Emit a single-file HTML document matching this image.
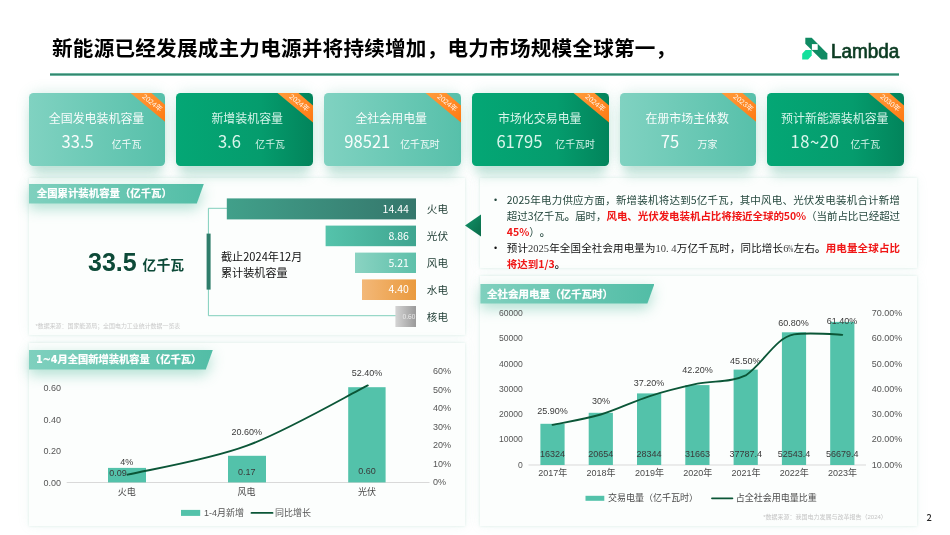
<!DOCTYPE html>
<html lang="zh"><head><meta charset="utf-8"><title>slide</title>
<style>
*{margin:0;padding:0;box-sizing:border-box}
html,body{width:950px;height:535px;overflow:hidden;background:#fff}
body{position:relative;font-family:"Liberation Sans","Noto Sans CJK SC",sans-serif;color:#000}
.abs{position:absolute}
.title{left:52px;top:33.8px;font-size:20.6px;font-weight:700;line-height:30px;white-space:nowrap;letter-spacing:0.22px;color:#000}
.hr{left:49.8px;top:73.2px;width:849.2px;height:2.6px;background:linear-gradient(180deg,#a5dfcf 0,#3b9179 32%,#35866e 50%,#3b9179 68%,#a5dfcf 100%)}
.logo{left:802.3px;top:36px;width:100px;height:26px}
.card{top:92.6px;width:136.7px;height:73px;border-radius:4.5px;color:#fff;overflow:hidden}
.cshadow{top:96px;width:128.7px;height:66px;border-radius:6px;box-shadow:0 0 13px 4px rgba(70,175,145,.21),0 13px 11px 1px rgba(70,175,145,.27)}
.card.l{background:linear-gradient(90deg,#80d2c1,#57c0aa)}
.card.d{background:linear-gradient(90deg,#04a775 0%,#059c6d 62%,#02845b 100%);color:#e2f9f1}
.card .t{position:absolute;left:-1.2px;right:0;top:16.4px;text-align:center;font-size:11.95px;opacity:.95;line-height:20px;white-space:nowrap}
.card .n{position:absolute;top:36.7px;font-size:16.6px;line-height:24px;white-space:nowrap;font-family:"Noto Sans CJK SC","Liberation Sans",sans-serif;font-weight:400;opacity:.96}
.card .u{position:absolute;margin-left:.4px;opacity:.92;top:45.6px;font-size:9.9px;line-height:14px;white-space:nowrap}
.rib{position:absolute;left:0;top:0;width:137px;height:73px}
.panel{background:#fcfefd;box-shadow:0 0 2.5px rgba(120,190,170,.26),0 0 12px rgba(120,190,170,.09)}
.lab{-webkit-text-stroke:0.2px #fff;height:19.5px;overflow:hidden;color:#fff;font-weight:700;font-size:10.4px;line-height:19.5px;padding-left:8.3px;white-space:nowrap;background:linear-gradient(90deg,#7fd0be,#52bda6);clip-path:polygon(0 0,100% 0,calc(100% - 7px) 100%,0 100%)}
.labsh{filter:drop-shadow(0 5px 7px rgba(70,180,150,.42))}
.t9{font-size:9px;line-height:12px;color:#4d4d4d;white-space:nowrap}
.c{transform:translateX(-50%);text-align:center}
.tc{text-spacing-trim:space-all;left:506.8px;width:393.2px;font-size:10.5px;line-height:16px;font-family:"Noto Sans CJK SC","Liberation Sans",sans-serif}
.tc .ln{white-space:nowrap;text-align:justify;text-align-last:justify;height:16px}
.tc .ln.s{text-align-last:left}
.tc .bu{position:absolute;left:-12.7px;top:0;font-style:normal;font-size:9px;font-family:"Liberation Sans",sans-serif}
.tc b.r{color:#f01616}
.tc .sf{font-family:"Liberation Serif","Noto Serif CJK SC",serif;color:#3a3a3a}
.tc .sf i{display:inline-block;width:.5em;text-align:center;font-style:normal}
.tc .sf u{display:inline-block;width:.5em;text-decoration:none;transform:scaleX(.6);transform-origin:0 50%}
</style></head><body>

<div class="abs title">新能源已经发展成主力电源并将持续增加，电力市场规模全球第一，</div>
<div class="abs hr"></div>
<svg class="abs logo" viewBox="0 0 100 26">
 <polygon points="3.3,1.8 9.7,1.8 25.4,17.5 25.4,23.4 19.3,23.4 3.3,7.7" fill="#0f8a62"/>
 <polygon points="0.2,17.75 3.6,14.1 9.7,14.1 9.7,19.4 6.1,23.4 0.2,23.4" fill="#14e09c"/>
 <rect x="9.9" y="8.1" width="5.8" height="5.8" fill="#fff"/>
 <text x="29" y="21.6" font-family="Liberation Sans, sans-serif" font-size="19.5" fill="#0b3b22" stroke="#0b3b22" stroke-width="0.7" stroke-linejoin="miter" textLength="68.2" lengthAdjust="spacingAndGlyphs">Lambda</text>
</svg>

<!-- panel A -->
<div class="abs panel" style="left:28.5px;top:177.7px;width:436.2px;height:157.7px"></div>
<div class="abs labsh" style="left:28.5px;top:184px"><div class="lab" style="width:175.3px">全国累计装机容量（亿千瓦）</div></div>
<div class="abs" style="left:88px;top:247px;font-size:25px;font-weight:700;line-height:30px;color:#0d4a38;white-space:nowrap">33.5</div>
<div class="abs" style="left:142.6px;top:255.5px;font-size:13.8px;font-weight:700;line-height:20px;color:#0d4a38;white-space:nowrap">亿千瓦</div>
<div class="abs" style="left:35.5px;top:322.1px;font-size:5.94px;line-height:9px;color:#c9c9c9;white-space:nowrap">*数据来源：国家能源局；全国电力工业统计数据一览表</div>
<svg class="abs" style="left:200px;top:190px" width="265" height="145" viewBox="200 190 265 145">
 <defs>
  <linearGradient id="b1"><stop offset="0" stop-color="#41a08a"/><stop offset="1" stop-color="#35776c"/></linearGradient>
  <linearGradient id="b2"><stop offset="0" stop-color="#55c3ab"/><stop offset="1" stop-color="#3fa590"/></linearGradient>
  <linearGradient id="b3"><stop offset="0" stop-color="#8ad3c2"/><stop offset="1" stop-color="#5ec0aa"/></linearGradient>
  <linearGradient id="b4"><stop offset="0" stop-color="#f3b878"/><stop offset="1" stop-color="#ea9a3e"/></linearGradient>
  <linearGradient id="b5"><stop offset="0" stop-color="#d4d4d4"/><stop offset="1" stop-color="#9a9a9a"/></linearGradient>
 </defs>
 <path d="M227 208.3H208.4V315.7H396" fill="none" stroke="#80cfbc" stroke-width="1"/>
 <rect x="206.6" y="233.6" width="4" height="56" fill="#2f7d6b"/>
 <rect x="226.8" y="198.4" width="189.2" height="21" fill="url(#b1)"/>
 <rect x="325.6" y="225.6" width="90.4" height="20.6" fill="url(#b2)"/>
 <rect x="355" y="252.6" width="61" height="20.4" fill="url(#b3)"/>
 <rect x="362" y="279.4" width="54" height="20.6" fill="url(#b4)"/>
 <rect x="395.4" y="306" width="20.6" height="21" fill="url(#b5)"/>
 <g font-size="10.5" fill="#fff" text-anchor="end" font-family="Noto Sans CJK SC, Liberation Sans, sans-serif" font-weight="400">
  <text x="408.8" y="212.8">14.44</text><text x="408.8" y="239.8">8.86</text><text x="408.8" y="266.6">5.21</text><text x="408.8" y="293.4">4.40</text>
 </g>
 <text x="415.4" y="318.9" font-size="6.6" fill="#ececec" text-anchor="end" font-family="Noto Sans CJK SC, sans-serif">0.60</text>
 <g font-size="10.6" fill="#1c3a31" font-family="Liberation Sans, Noto Sans CJK SC, sans-serif">
  <text x="426.8" y="213">火电</text><text x="426.8" y="240">光伏</text><text x="426.8" y="266.8">风电</text><text x="426.8" y="293.6">水电</text><text x="426.8" y="320.6">核电</text>
 </g>
</svg>
<div class="abs" style="left:221px;top:247.8px;font-size:11.1px;line-height:16px;color:#111;white-space:nowrap;font-family:'Noto Sans CJK SC',sans-serif">截止2024年12月<br>累计装机容量</div>

<!-- panel B -->
<div class="abs panel" style="left:28.5px;top:343.2px;width:436.2px;height:182.4px"></div>
<div class="abs labsh" style="left:28.5px;top:350px"><div class="lab" style="width:184.3px;padding-left:7.6px;font-size:10.27px;line-height:20px"><span style="font-family:'DejaVu Sans',sans-serif;font-size:9.6px">1~4</span>月全国新增装机容量（亿千瓦）</div></div>
<svg class="abs" style="left:28px;top:360px" width="437" height="166" viewBox="28 360 437 166" font-family="Liberation Sans, Noto Sans CJK SC, sans-serif" font-size="9">
<line x1="66.7" y1="482.5" x2="429.5" y2="482.5" stroke="#d9d9d9" stroke-width="1"/>
<rect x="108" y="467.9" width="38.0" height="14.5" fill="#53c2aa"/>
<rect x="228" y="455.8" width="38.0" height="26.6" fill="#53c2aa"/>
<rect x="348.2" y="387.2" width="37.4" height="95.2" fill="#53c2aa"/>
<g fill="#555" text-anchor="end">
<text x="61" y="390.8">0.60</text>
<text x="61" y="422.5">0.40</text>
<text x="61" y="454.1">0.20</text>
<text x="61" y="485.8">0.00</text>
</g><g fill="#555">
<text x="433" y="374.4">60%</text>
<text x="433" y="392.9">50%</text>
<text x="433" y="411.3">40%</text>
<text x="433" y="429.8">30%</text>
<text x="433" y="448.3">20%</text>
<text x="433" y="466.8">10%</text>
<text x="433" y="485.2">0%</text>
</g><g fill="#3a3a3a" text-anchor="middle">
<text x="126.8" y="465.1">4%</text>
<text x="246.8" y="434.7">20.60%</text>
<text x="366.9" y="375.6">52.40%</text>
<text x="118.1" y="476">0.09</text>
<text x="246.7" y="475.2">0.17</text>
<text x="366.9" y="474.4">0.60</text>
</g><g fill="#4a4a4a" text-anchor="middle">
<text x="126.8" y="494.9">火电</text>
<text x="246.5" y="494.6">风电</text>
<text x="366.9" y="495.2">光伏</text>
</g>
<path d="M127.5 474.7C147.4 469.9 206.9 460.6 247.0 445.7C287.1 430.8 347.7 395.4 367.8 385.4" fill="none" stroke="#0b5637" stroke-width="1.85" stroke-linecap="round"/>
<rect x="181" y="509.9" width="19.2" height="6" fill="#53c2aa"/><text x="204" y="516.2" fill="#555">1-4月新增</text>
<line x1="251.5" y1="512.9" x2="272.5" y2="512.9" stroke="#0b5637" stroke-width="1.85" stroke-linecap="round"/><text x="275" y="516.2" fill="#555">同比增长</text>
</svg>

<!-- panel C -->
<div class="abs panel" style="left:480px;top:178px;width:437px;height:90px"></div>
<svg class="abs" style="left:464px;top:213px" width="18" height="25" viewBox="0 0 18 25"><defs><linearGradient id="tg" x1="0" y1="0" x2="1" y2="1"><stop offset="0" stop-color="#12946a"/><stop offset="1" stop-color="#0a6b49"/></linearGradient></defs><polygon points="1,12.4 17,1.4 17,23.5" fill="url(#tg)"/></svg>
<div class="abs tc" style="top:191.7px;color:#24473d"><i class="bu">•</i><div class="ln">2025年电力供应方面，新增装机将达到5亿千瓦，其中风电、光伏发电装机合计新增</div>
<div class="ln" style="letter-spacing:-0.08px">超过3亿千瓦<b>。</b>届时，<b class="r">风电、光伏发电装机占比将接近全球的50%</b>（当前占比已经超过</div>
<div class="ln s"><b class="r">45%</b>）<b>。</b></div></div>
<div class="abs tc" style="top:239.6px;color:#111"><i class="bu">•</i><div class="ln">预计<span class="sf">2025</span>年全国全社会用电量为<span class="sf">10<i>.</i>4</span>万亿千瓦时，同比增长<span class="sf">6<u>%</u></span>左右<b>。</b><b class="r">用电量全球占比</b></div>
<div class="ln s"><b class="r">将达到1/3</b><b>。</b></div></div>

<!-- panel D -->
<div class="abs panel" style="left:480.4px;top:275.5px;width:436.6px;height:250px"></div>
<div class="abs labsh" style="left:480.4px;top:284px"><div class="lab" style="width:174px;padding-left:6.6px;font-size:10.5px;line-height:21.2px">全社会用电量（亿千瓦时）</div></div>
<svg class="abs" style="left:481px;top:305px" width="436" height="205" viewBox="481 305 436 205" font-family="Liberation Sans, Noto Sans CJK SC, sans-serif" font-size="9">
<line x1="528.5" y1="465" x2="866" y2="465" stroke="#d9d9d9" stroke-width="1"/>
<rect x="540.4" y="423.8" width="24.2" height="41.2" fill="#53c2aa"/>
<rect x="588.7" y="412.8" width="24.2" height="52.2" fill="#53c2aa"/>
<rect x="637.0" y="393.4" width="24.2" height="71.6" fill="#53c2aa"/>
<rect x="685.3" y="385.1" width="24.2" height="79.9" fill="#53c2aa"/>
<rect x="733.6" y="369.6" width="24.2" height="95.4" fill="#53c2aa"/>
<rect x="781.9" y="332.3" width="24.2" height="132.7" fill="#53c2aa"/>
<rect x="830.2" y="321.9" width="24.2" height="143.1" fill="#53c2aa"/>
<g fill="#555" text-anchor="end" font-size="8.6">
<text x="522.8" y="316.2">60000</text>
<text x="522.8" y="341.4">50000</text>
<text x="522.8" y="366.7">40000</text>
<text x="522.8" y="391.9">30000</text>
<text x="522.8" y="417.2">20000</text>
<text x="522.8" y="442.4">10000</text>
<text x="522.8" y="467.7">0</text>
</g><g fill="#555">
<text x="871.7" y="316.2">70.00%</text>
<text x="871.7" y="341.4">60.00%</text>
<text x="871.7" y="366.7">50.00%</text>
<text x="871.7" y="391.9">40.00%</text>
<text x="871.7" y="417.2">30.00%</text>
<text x="871.7" y="442.4">20.00%</text>
<text x="871.7" y="467.7">10.00%</text>
</g><g fill="#3a3a3a" text-anchor="middle">
<text x="552.5" y="457.0">16324</text>
<text x="600.8" y="457.0">20654</text>
<text x="649.1" y="457.0">28344</text>
<text x="697.4" y="457.0">31663</text>
<text x="745.7" y="457.0">37787.4</text>
<text x="794.0" y="457.0">52543.4</text>
<text x="842.3" y="457.0">56679.4</text>
<text x="552.6" y="414.3">25.90%</text>
<text x="601" y="403.7">30%</text>
<text x="649" y="385.9">37.20%</text>
<text x="697.5" y="373.3">42.20%</text>
<text x="745.2" y="364.4">45.50%</text>
<text x="793.4" y="326.0">60.80%</text>
<text x="842" y="324.3">61.40%</text>
</g><g fill="#4a4a4a" text-anchor="middle">
<text x="552.8" y="475.8">2017年</text>
<text x="601.1" y="475.8">2018年</text>
<text x="649.4" y="475.8">2019年</text>
<text x="697.7" y="475.8">2020年</text>
<text x="746.0" y="475.8">2021年</text>
<text x="794.3" y="475.8">2022年</text>
<text x="842.6" y="475.8">2023年</text>
</g>
<path d="M552.5 424.9C560.5 423.1 584.7 419.3 600.8 414.5C616.9 409.7 633.0 401.5 649.1 396.3C665.2 391.2 681.3 387.2 697.4 383.7C713.5 380.2 729.6 383.2 745.7 375.4C763 364 775.5 337.4 794.0 334.4C808 332.2 832 334.2 842.3 334.8" fill="none" stroke="#0b5637" stroke-width="1.85" stroke-linecap="round"/>
<rect x="585.5" y="495.8" width="18.8" height="5" fill="#53c2aa"/><text x="608" y="501.1" fill="#4a4a4a">交易电量（亿千瓦时）</text>
<line x1="712" y1="498.3" x2="732.4" y2="498.3" stroke="#0b5637" stroke-width="1.85" stroke-linecap="round"/><text x="735.7" y="501.1" fill="#4a4a4a">占全社会用电量比重</text>
</svg>
<div class="abs" style="left:763.2px;top:512.6px;font-size:6px;line-height:9px;color:#c4c4c4;white-space:nowrap">*数据来源：我国电力发展与改革报告（2024）</div>
<div class="abs" style="left:926.6px;top:510.6px;font-size:9.3px;line-height:12px;color:#222;font-weight:500;font-family:'Noto Sans CJK SC',sans-serif">2</div>

<!-- cards -->
<div class="abs cshadow" style="left:32.8px"></div>
<div class="abs card l" style="left:28.8px"><div class="t">全国发电装机容量</div><div class="n" style="left:32.7px">33.5</div><div class="u" style="left:82.5px">亿千瓦</div><svg class="rib" viewBox="0 0 137 73"><defs><linearGradient id="rg0" x1="0" y1="0" x2="1" y2="1"><stop offset="0" stop-color="#ff9c3c"/><stop offset="1" stop-color="#ff7a12"/></linearGradient></defs><polygon points="101.5,0 122.5,0 137,12.5 137,29.5" fill="url(#rg0)"/><text x="123.3" y="12.3" font-size="7.2" fill="#fff" fill-opacity=".92" text-anchor="middle" transform="rotate(38.5 123.3 10)">2024年</text></svg></div>
<div class="abs cshadow" style="left:180.1px"></div>
<div class="abs card d" style="left:176.1px"><div class="t" style="left:5.6px">新增装机容量</div><div class="n" style="left:41.8px">3.6</div><div class="u" style="left:78.8px">亿千瓦</div><svg class="rib" viewBox="0 0 137 73"><defs><linearGradient id="rg1" x1="0" y1="0" x2="1" y2="1"><stop offset="0" stop-color="#ff9c3c"/><stop offset="1" stop-color="#ff7a12"/></linearGradient></defs><polygon points="101.5,0 122.5,0 137,12.5 137,29.5" fill="url(#rg1)"/><text x="123.3" y="12.3" font-size="7.2" fill="#fff" fill-opacity=".92" text-anchor="middle" transform="rotate(38.5 123.3 10)">2024年</text></svg></div>
<div class="abs cshadow" style="left:328.2px"></div>
<div class="abs card l" style="left:324.2px"><div class="t" style="left:-2.6px">全社会用电量</div><div class="n" style="left:20.1px">98521</div><div class="u" style="left:75.6px">亿千瓦时</div><svg class="rib" viewBox="0 0 137 73"><defs><linearGradient id="rg2" x1="0" y1="0" x2="1" y2="1"><stop offset="0" stop-color="#ff9c3c"/><stop offset="1" stop-color="#ff7a12"/></linearGradient></defs><polygon points="101.5,0 122.5,0 137,12.5 137,29.5" fill="url(#rg2)"/><text x="123.3" y="12.3" font-size="7.2" fill="#fff" fill-opacity=".92" text-anchor="middle" transform="rotate(38.5 123.3 10)">2024年</text></svg></div>
<div class="abs cshadow" style="left:476.0px"></div>
<div class="abs card d" style="left:472.0px"><div class="t">市场化交易电量</div><div class="n" style="left:24.4px">61795</div><div class="u" style="left:82.9px">亿千瓦时</div><svg class="rib" viewBox="0 0 137 73"><defs><linearGradient id="rg3" x1="0" y1="0" x2="1" y2="1"><stop offset="0" stop-color="#ff9c3c"/><stop offset="1" stop-color="#ff7a12"/></linearGradient></defs><polygon points="101.5,0 122.5,0 137,12.5 137,29.5" fill="url(#rg3)"/><text x="123.3" y="12.3" font-size="7.2" fill="#fff" fill-opacity=".92" text-anchor="middle" transform="rotate(38.5 123.3 10)">2024年</text></svg></div>
<div class="abs cshadow" style="left:623.5px"></div>
<div class="abs card l" style="left:619.5px"><div class="t">在册市场主体数</div><div class="n" style="left:41.2px">75</div><div class="u" style="left:77.7px">万家</div><svg class="rib" viewBox="0 0 137 73"><defs><linearGradient id="rg4" x1="0" y1="0" x2="1" y2="1"><stop offset="0" stop-color="#ff9c3c"/><stop offset="1" stop-color="#ff7a12"/></linearGradient></defs><polygon points="101.5,0 122.5,0 137,12.5 137,29.5" fill="url(#rg4)"/><text x="123.3" y="12.3" font-size="7.2" fill="#fff" fill-opacity=".92" text-anchor="middle" transform="rotate(38.5 123.3 10)">2023年</text></svg></div>
<div class="abs cshadow" style="left:771.1px"></div>
<div class="abs card d" style="left:767.1px"><div class="t">预计新能源装机容量</div><div class="n" style="left:23.5px;letter-spacing:.55px">18~20</div><div class="u" style="left:83px">亿千瓦</div><svg class="rib" viewBox="0 0 137 73"><defs><linearGradient id="rg5" x1="0" y1="0" x2="1" y2="1"><stop offset="0" stop-color="#ff9c3c"/><stop offset="1" stop-color="#ff7a12"/></linearGradient></defs><polygon points="101.5,0 122.5,0 137,12.5 137,29.5" fill="url(#rg5)"/><text x="123.3" y="12.3" font-size="7.2" fill="#fff" fill-opacity=".92" text-anchor="middle" transform="rotate(38.5 123.3 10)">2030年</text></svg></div>



</body></html>
